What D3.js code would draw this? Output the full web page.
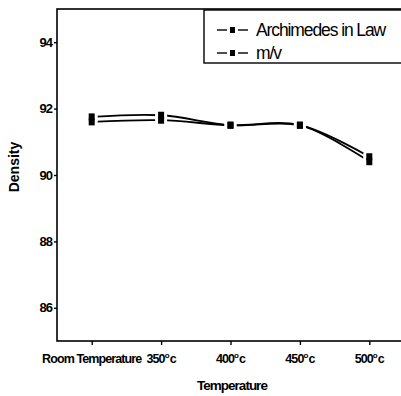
<!DOCTYPE html>
<html>
<head>
<meta charset="utf-8">
<script src="https://cdn.jsdelivr.net/npm/d3@7"></script>
<style>
  body { margin: 0; background: #fff; }
  text { font-family: "Liberation Sans", Arial, sans-serif; fill: #000; }
</style>
</head>
<body>
<svg id="chart" width="401" height="396"></svg>
<script>
var categories = ["Room Temperature", "350", "400", "450", "500"];
var archimedes = [91.75, 91.8, 91.5, 91.5, 90.55];
var massVolume = [91.6, 91.65, 91.5, 91.5, 90.4];
var yTicks = [86, 88, 90, 92, 94];
var seriesNames = ["Archimedes in Law", "m/v"];

var margin = {top: 9, left: 57, bottom: 341, right: 404};

var svg = d3.select("#chart");

var x = d3.scaleLinear()
  .domain([-0.5, categories.length - 0.5])
  .range([margin.left, margin.right]);
var y = d3.scaleLinear()
  .domain([85, 95])
  .range([margin.bottom, margin.top]);

// frame
svg.append("rect")
  .attr("x", margin.left)
  .attr("y", margin.top)
  .attr("width", margin.right - margin.left)
  .attr("height", margin.bottom - margin.top)
  .attr("fill", "none")
  .attr("stroke", "#000")
  .attr("stroke-width", 1.6);

// y axis
var yAxis = d3.axisLeft(y).tickValues(yTicks).tickSize(3).tickPadding(2);
var gy = svg.append("g")
  .attr("transform", "translate(" + margin.left + ",0)")
  .call(yAxis);
gy.select(".domain").remove();
gy.selectAll("line").attr("stroke-width", 1.4);
gy.selectAll("text")
  .attr("font-size", "13px")
  .attr("font-weight", "bold")
  .attr("letter-spacing", "-1px")
  .style("font-family", "'Liberation Sans', Arial, sans-serif");

// x axis
var xAxis = d3.axisBottom(x).tickValues(d3.range(categories.length)).tickSize(4).tickFormat("");
var gx = svg.append("g")
  .attr("transform", "translate(0," + margin.bottom + ")")
  .call(xAxis);
gx.select(".domain").remove();
gx.selectAll("line").attr("stroke-width", 1.4);

categories.forEach(function(c, i) {
  var t = svg.append("text")
    .attr("x", x(i))
    .attr("y", 363)
    .attr("text-anchor", "middle")
    .attr("font-size", "12.5px")
    .attr("font-weight", "bold")
    .attr("letter-spacing", "-0.9px");
  if (i === 0) {
    t.text(c);
  } else {
    t.append("tspan").text(c);
    t.append("tspan").text("o").attr("font-size", "8px").attr("dy", -5);
    t.append("tspan").text("c").attr("dy", 5).attr("dx", 1);
  }
});

// axis titles
svg.append("text")
  .attr("transform", "translate(19,167) rotate(-90)")
  .attr("text-anchor", "middle")
  .attr("font-size", "14px")
  .attr("font-weight", "bold")
  .text("Density");
svg.append("text")
  .attr("x", 232)
  .attr("y", 390)
  .attr("text-anchor", "middle")
  .attr("font-size", "13.5px")
  .attr("font-weight", "bold")
  .attr("letter-spacing", "-1px")
  .text("Temperature");

// lines
var line = d3.line()
  .x(function(d, i) { return x(i); })
  .y(function(d) { return y(d); })
  .curve(d3.curveCatmullRom);

[archimedes, massVolume].forEach(function(s) {
  svg.append("path")
    .attr("d", line(s))
    .attr("fill", "none")
    .attr("stroke", "#000")
    .attr("stroke-width", 1.8);
});

// marker gaps then markers
var ms = 6;
[archimedes, massVolume].forEach(function(s) {
  svg.selectAll(null).data(s).enter().append("rect")
    .attr("x", function(d, i) { return x(i) - ms / 2 - 3; })
    .attr("y", function(d) { return y(d) - ms / 2 - 1; })
    .attr("width", ms + 6)
    .attr("height", ms + 2)
    .attr("fill", "#fff");
});
[archimedes, massVolume].forEach(function(s) {
  svg.selectAll(null).data(s).enter().append("rect")
    .attr("x", function(d, i) { return x(i) - ms / 2; })
    .attr("y", function(d) { return y(d) - ms / 2 - 0.5; })
    .attr("width", ms)
    .attr("height", ms + 1)
    .attr("fill", "#000");
});

// legend
var lg = svg.append("g");
lg.append("rect")
  .attr("x", 204)
  .attr("y", 10)
  .attr("width", 210)
  .attr("height", 53)
  .attr("fill", "#fff")
  .attr("stroke", "#000")
  .attr("stroke-width", 1.4);

seriesNames.forEach(function(n, i) {
  var cy = 30 + i * 23;
  lg.append("line")
    .attr("x1", 217).attr("x2", 227)
    .attr("y1", cy).attr("y2", cy)
    .attr("stroke", "#000").attr("stroke-width", 1.4);
  lg.append("line")
    .attr("x1", 238).attr("x2", 248)
    .attr("y1", cy).attr("y2", cy)
    .attr("stroke", "#000").attr("stroke-width", 1.4);
  lg.append("rect")
    .attr("x", 230).attr("y", cy - 3)
    .attr("width", 5).attr("height", 6)
    .attr("fill", "#000");
  lg.append("text")
    .attr("x", 256)
    .attr("y", cy + 6)
    .attr("font-size", "17.5px")
    .attr("letter-spacing", "-1.1px")
    .text(n);
});
</script>
</body>
</html>
